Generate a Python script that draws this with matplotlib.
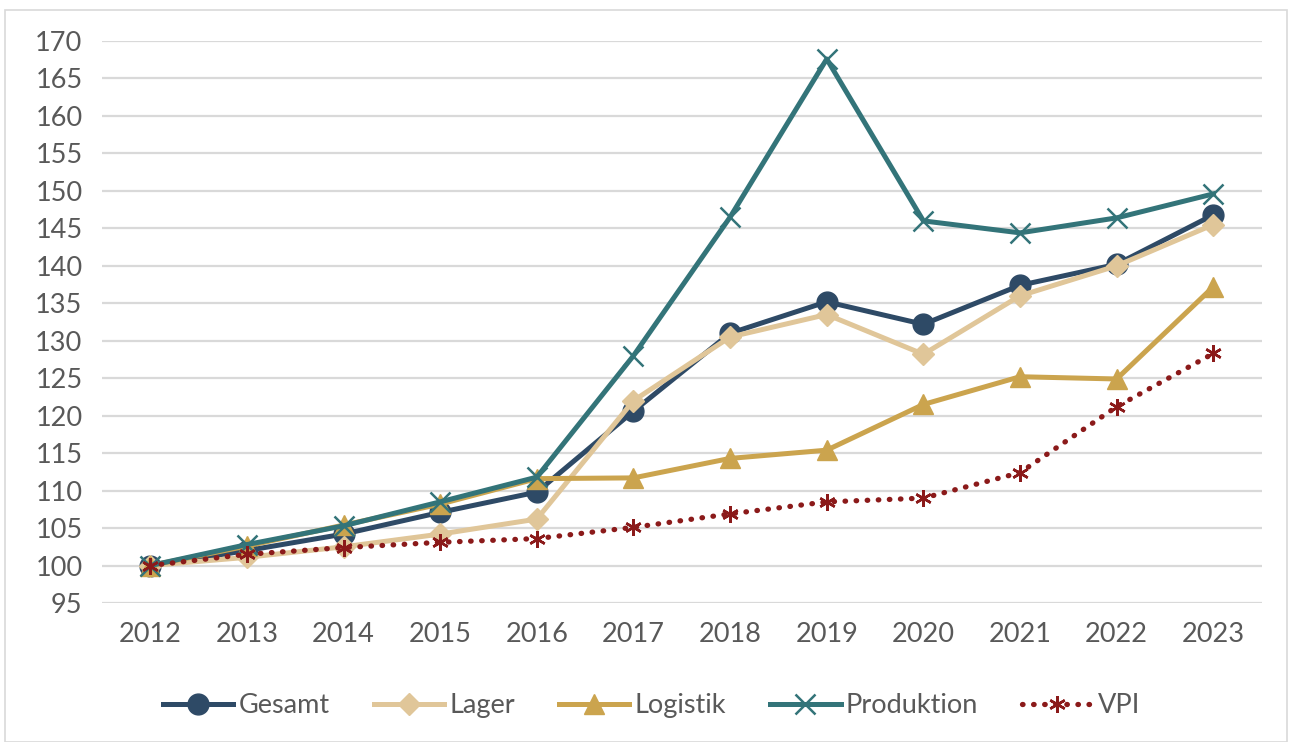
import matplotlib
matplotlib.use("Agg")
from matplotlib import pyplot as plt
from matplotlib.patches import Rectangle

years = ["2012", "2013", "2014", "2015", "2016", "2017", "2018", "2019", "2020", "2021", "2022", "2023"]
gesamt = [100, 102.0, 104.2, 107.1, 109.8, 120.6, 131.0, 135.2, 132.2, 137.4, 140.2, 146.8]
lager = [100, 101.1, 102.5, 104.2, 106.2, 122.0, 130.5, 133.5, 128.2, 136.0, 140.0, 145.5]
logistik = [100, 102.6, 105.4, 108.2, 111.6, 111.7, 114.3, 115.4, 121.5, 125.2, 124.9, 137.2]
produktion = [100, 102.8, 105.3, 108.5, 111.8, 128.0, 146.5, 167.6, 146.0, 144.4, 146.4, 149.6]
vpi = [100, 101.5, 102.4, 103.1, 103.6, 105.1, 106.9, 108.5, 109.0, 112.4, 121.2, 128.3]

FONT = ["Lato", "DejaVu Sans"]
TXT = "#595959"


def main():
    fig = plt.figure(figsize=(12.9, 7.42), dpi=100)
    fig.patches.append(Rectangle((0.004, 0.0), 0.994, 0.986, transform=fig.transFigure,
                                 fill=False, edgecolor="#d9d9d9", linewidth=1.2))
    ax = fig.add_axes([0.079, 0.1873, 0.899, 0.7574])
    x = list(range(len(years)))

    ax.plot(x, gesamt, color="#2E4A66", lw=3.6, marker="o", ms=15, label="Gesamt")
    ax.plot(x, lager, color="#E0C699", lw=3.6, marker="D", ms=11, label="Lager")
    ax.plot(x, logistik, color="#CBA44E", lw=3.6, marker="^", ms=15, label="Logistik")
    ax.plot(x, produktion, color="#337479", lw=3.6, marker="x", ms=15, mew=1.8, label="Produktion")
    ax.plot(x, vpi, color="#8B1A1A", lw=3.8, linestyle=(0, (0.1, 2.0)), dash_capstyle="round",
            marker=(6, 2, 0), ms=12, mew=1.8, label="VPI")

    ax.set_xlim(-0.5, len(years) - 0.5)
    ax.set_ylim(95, 170)
    ax.set_yticks(range(95, 171, 5))
    ax.set_xticks(x)
    ax.set_xticklabels(years)
    ax.yaxis.grid(True, color="#d9d9d9", lw=1.6)
    ax.set_axisbelow(True)
    for s in ax.spines.values():
        s.set_visible(False)
    ax.tick_params(length=0, labelsize=19.5, labelcolor=TXT)
    ax.tick_params(axis="x", pad=14)
    ax.tick_params(axis="y", pad=14)
    for lab in ax.get_xticklabels() + ax.get_yticklabels():
        lab.set_family(FONT)

    leg = ax.legend(loc="center", bbox_to_anchor=(0.474, -0.183), ncol=5, frameon=False,
                    prop={"family": FONT, "size": 19.5}, handlelength=2.6, handletextpad=0.2,
                    columnspacing=1.62)
    for t in leg.get_texts():
        t.set_color(TXT)

    fig.savefig("out.png", dpi=100)
    plt.close(fig)


if __name__ == "__main__":
    main()
